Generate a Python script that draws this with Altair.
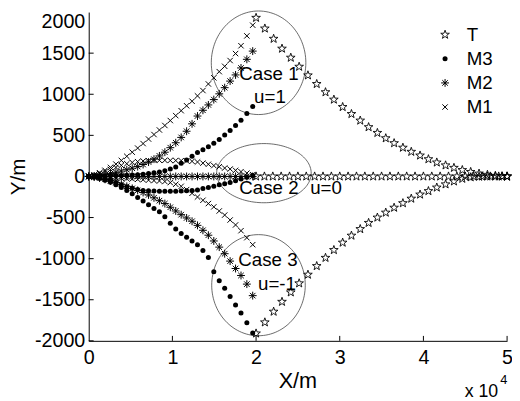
import altair as alt
import pandas as pd
import numpy as np

FONT = "Liberation Sans"

# ---------------- data (metres) ----------------
target_x = [20000, 21050, 22100, 23100, 24150, 25150, 26200, 27250, 28300, 29300, 30350,
            31400, 32450, 33450, 34500, 35500, 36500, 37550, 38550, 39600, 40600, 41600,
            42650, 43650, 44650, 45650, 46650, 47650, 48600, 49400, 50000]
t_y_case1 = [1930, 1800, 1675, 1555, 1445, 1335, 1230, 1125, 1025, 935, 845, 760, 680, 600,
             530, 465, 405, 350, 300, 255, 210, 170, 135, 105, 78, 55, 35, 20, 8, 2, 0]
t_y_case3 = [-1910, -1775, -1645, -1525, -1410, -1300, -1195, -1090, -990, -895, -805, -720,
             -640, -565, -500, -440, -380, -325, -270, -220, -178, -135, -96, -60, -28, -10,
             -3, 0, 0, 0, 0]
t_x_case2 = [20000, 21000, 22000, 23000, 24000, 25000, 26000, 27000, 28000, 29000, 30000,
             31000, 32000, 33000, 34000, 35000, 36000, 37000, 38000, 39000, 40000, 41000,
             42000, 43000, 44000, 45000, 46000, 47000, 48000, 49000, 50000]
t_y_case2 = [0, 0, 0, 0, 0, 0, 0, 0, 0, 0, 0, 0, 0, 0, 0, 0, 0, 0, 0, 0, 0, 0, 0, 0, 0, 0,
             0, 0, 0, 0, 0]

missile_x = [0, 650, 1300, 1950, 2600, 3250, 3900, 4550, 5200, 5850, 6500, 7150, 7800, 8450,
             9100, 9750, 10400, 11050, 11700, 12350, 13000, 13650, 14300, 14950, 15600,
             16250, 16900, 17550, 18200, 18900, 19600]

m1_y_case1 = [0, 20, 45, 75, 110, 150, 195, 245, 295, 345, 400, 455, 510, 565, 620, 680, 740,
              800, 860, 915, 980, 1045, 1125, 1200, 1275, 1340, 1410, 1495, 1590, 1710, 1840]
m2_y_case1 = [0, 5, 12, 22, 35, 50, 65, 82, 100, 120, 145, 175, 210, 250, 295, 350, 410, 475,
              550, 640, 735, 805, 870, 935, 1005, 1080, 1160, 1235, 1320, 1425, 1525]
m3_y_case1 = [0, 2, 4, 6, 8, 10, 12, 15, 18, 22, 28, 35, 45, 55, 70, 90, 115, 160, 200, 245,
              290, 325, 360, 405, 450, 505, 560, 620, 685, 765, 850]

m1_y_case2 = [0, 15, 35, 60, 85, 110, 135, 155, 170, 180, 188, 192, 195, 196, 196, 195, 194,
              192, 189, 184, 176, 162, 148, 132, 118, 102, 90, 74, 58, 40, 22]
m2_y_case2 = [0, 0, 0, 0, 0, 0, 0, 0, 0, 0, 0, 0, 0, 0, 0, 0, 0, 0, 0, 0, 0, 0, 0, 0, 0, 0,
              0, 0, 0, 0, 0]
m3_y_case2 = [0, -5, -15, -30, -50, -75, -100, -125, -145, -160, -170, -175, -178, -180, -180,
              -180, -180, -178, -175, -172, -166, -148, -135, -118, -100, -88, -75, -52, -32,
              -10, 10]

m1_y_case3 = [0, -3, -6, -10, -14, -18, -22, -26, -30, -35, -40, -45, -50, -55, -62, -75, -95,
              -120, -160, -205, -250, -290, -330, -370, -420, -470, -530, -590, -660, -745, -830]
m2_y_case3 = [0, -8, -20, -35, -55, -75, -95, -120, -145, -170, -195, -225, -260, -295, -330,
              -375, -420, -465, -505, -545, -595, -655, -715, -785, -860, -940, -1030, -1120,
              -1205, -1310, -1450]
m3_y_case3 = [0, -10, -25, -45, -70, -100, -135, -170, -210, -255, -300, -345, -390, -430, -490,
              -570, -640, -695, -740, -785, -830, -900, -985, -1160, -1270, -1360, -1460, -1565,
              -1660, -1780, -1905]

series_order = ["T", "M3", "M2", "M1"]

x_ticks = [0, 10000, 20000, 30000, 40000, 50000]
y_ticks = [-2000, -1500, -1000, -500, 0, 500, 1000, 1500, 2000]

# circled regions (centre x, centre y, radius x, radius y) in data units
ellipse_cx = [20300, 20940, 20290]
ellipse_cy = [1383, 40, -1323]
ellipse_rx = [5650, 5650, 5590]
ellipse_ry = [630, 360, 615]

note_text = ["Case 1", "u=1", "Case 2", "u=0", "Case 3", "u=-1"]
note_x = [18000, 19765, 18000, 26470, 17880, 20235]
note_y = [1245, 970, -144, -144, -1018, -1305]

# ---------------- tables ----------------
def table(series, parts):
    rows = []
    for case, xs, ys in parts:
        for xv, yv in zip(xs, ys):
            rows.append({"series": series, "case": case, "x": xv, "y": yv})
    return pd.DataFrame(rows)

df_T = table("T", [(1, target_x, t_y_case1), (2, t_x_case2, t_y_case2), (3, target_x, t_y_case3)])
df_M3 = table("M3", [(1, missile_x, m3_y_case1), (2, missile_x, m3_y_case2), (3, missile_x, m3_y_case3)])
df_M2 = table("M2", [(1, missile_x, m2_y_case1), (2, missile_x, m2_y_case2), (3, missile_x, m2_y_case3)])
df_M1 = table("M1", [(1, missile_x, m1_y_case1), (2, missile_x, m1_y_case2), (3, missile_x, m1_y_case3)])

theta = np.linspace(0, 2 * np.pi, 121)
erows = []
for k in range(3):
    for i, t in enumerate(theta):
        erows.append({"case": k + 1, "i": i,
                      "x": float(ellipse_cx[k] + ellipse_rx[k] * np.cos(t)),
                      "y": float(ellipse_cy[k] + ellipse_ry[k] * np.sin(t))})
ell = pd.DataFrame(erows)

notes = pd.DataFrame({"text": note_text, "x": note_x, "y": note_y})
xt = pd.DataFrame({"v": x_ticks[1:]})
yt = pd.DataFrame({"v": y_ticks[:-1]})
one = pd.DataFrame({"k": [0]})

XS = alt.Scale(domain=[0, 50000], nice=False, zero=False)
YS = alt.Scale(domain=[-2000, 2000], nice=False, zero=False)

STAR = ("M0,-1L0.235,-0.324L0.951,-0.309L0.38,0.124L0.588,0.809L0,0.4L-0.588,0.809"
        "L-0.38,0.124L-0.951,-0.309L-0.235,-0.324Z")
XPATH = "M-1,-1L1,1M-1,1L1,-1"
ASTER = "M0,-1L0,1M-1,0L1,0M-0.7,-0.7L0.7,0.7M-0.7,0.7L0.7,-0.7"

# marker style per series: shape, size, filled, stroke width
style = {
    "T": (STAR, 85, False, 0.9),
    "M3": ("circle", 26, True, 0.6),
    "M2": (ASTER, 64, False, 1.0),
    "M1": (XPATH, 30, False, 1.0),
}

x_axis = alt.Axis(values=x_ticks, labelExpr="'' + datum.value / 10000",
                  ticks=False, labelPadding=7, labelFontSize=20, labelFont=FONT,
                  labelColor="black", domainColor="black", domainWidth=1, grid=False,
                  labelFlush=False, labelOverlap=False,
                  title="X/m", titleFont=FONT, titleFontSize=22, titleFontWeight="normal",
                  titleColor="black", titleX=212, titleY=40, titleBaseline="middle",
                  titleAlign="center")
y_axis = alt.Axis(values=y_ticks, labelExpr="'' + datum.value", ticks=False,
                  labelPadding=4, labelFontSize=20,
                  labelFont=FONT, labelColor="black", domainColor="black", domainWidth=1,
                  grid=False, labelFlush=False, labelOverlap=False,
                  labelBaseline={"condition": {"test": "datum.value == 2000", "value": "top"},
                                 "value": "middle"},
                  title="Y/m", titleFont=FONT, titleFontSize=21, titleFontWeight="normal",
                  titleColor="black", titleX=-71, titleY=167, titleAngle=270,
                  titleBaseline="middle", titleAlign="center")

layers = []
layers.append(alt.Chart(ell).mark_line(stroke="#444", strokeWidth=0.8, clip=False).encode(
    x=alt.X("x:Q", scale=XS, axis=x_axis),
    y=alt.Y("y:Q", scale=YS, axis=y_axis),
    detail="case:N",
    order="i:Q",
))

def point_layer(df, s):
    shape, size, filled, sw = style[s]
    return alt.Chart(df).mark_point(shape=shape, size=size, filled=filled,
                                    color="black", strokeWidth=sw, opacity=1).encode(
        x=alt.X("x:Q", scale=XS), y=alt.Y("y:Q", scale=YS))

for df, s in [(df_T, "T"), (df_M3, "M3"), (df_M2, "M2"), (df_M1, "M1")]:
    layers.append(point_layer(df, s))

layers.append(alt.Chart(notes).mark_text(align="left", baseline="middle", font=FONT,
                                         fontSize=19, color="black").encode(
    x=alt.X("x:Q", scale=XS), y=alt.Y("y:Q", scale=YS), text="text:N"))

# inward tick marks
layers.append(alt.Chart(xt).mark_rule(color="black", strokeWidth=1).encode(
    x=alt.X("v:Q", scale=XS), y=alt.value(334), y2=alt.value(329)))
layers.append(alt.Chart(yt).mark_rule(color="black", strokeWidth=1).encode(
    y=alt.Y("v:Q", scale=YS), x=alt.value(0), x2=alt.value(5)))

# legend (upper right, MATLAB style: marker then name)
legend_rows = [23, 47.5, 72, 96.5]
for s, yy in zip(series_order, legend_rows):
    shape, size, filled, sw = style[s]
    layers.append(alt.Chart(one).mark_point(shape=shape, size=size, filled=filled,
                                            color="black", strokeWidth=sw, opacity=1).encode(
        x=alt.value(362), y=alt.value(yy)))
    layers.append(alt.Chart(one).mark_text(align="left", baseline="middle", font=FONT,
                                           fontSize=19, color="black").encode(
        x=alt.value(384), y=alt.value(yy), text=alt.value(s)))

# axis multiplier
layers.append(alt.Chart(one).mark_text(align="left", baseline="alphabetic", font=FONT,
                                       fontSize=18, color="black").encode(
    x=alt.value(382), y=alt.value(391), text=alt.value("x 10")))
layers.append(alt.Chart(one).mark_text(align="left", baseline="alphabetic", font=FONT,
                                       fontSize=13, color="black").encode(
    x=alt.value(418), y=alt.value(378), text=alt.value("4")))

chart = alt.layer(*layers).properties(
    width=425, height=334,
    autosize=alt.AutoSizeParams(type="none"),
    padding={"left": 82, "top": 1, "right": 5, "bottom": 58},
).configure_view(stroke=None)

chart.save("out.html", embed_options={"renderer": "svg", "actions": False})
